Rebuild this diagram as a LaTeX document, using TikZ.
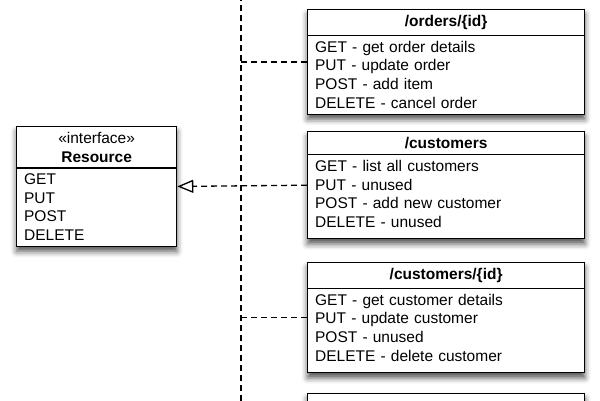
\documentclass[tikz,border=0pt]{standalone}
\usepackage{fontspec}
\setmainfont{Liberation Sans}
\usetikzlibrary{shapes.multipart,arrows.meta,shadows.blur}
\tikzstyle{umlclass}=[rectangle split, rectangle split parts=2, draw=black, fill=white, line width=1.3pt, inner xsep=7.5pt, inner ysep=5pt, align=left, font=\fontsize{15.5}{18.7}\selectfont, blur shadow={shadow xshift=0pt, shadow yshift=-5pt, shadow blur radius=6pt, shadow opacity=70}]
\tikzstyle{iface}=[umlclass, text width=145pt]
\tikzstyle{resource}=[umlclass, text width=262pt]
\tikzstyle{dep} = [draw, line width=1.3pt, dash pattern=on 6pt off 4pt]
\tikzstyle{realize} = [dep, -{Triangle[open,length=16pt,width=13pt]}]

\begin{document}
\begin{tikzpicture}[x=1pt,y=-1pt]
  \useasboundingbox (0,0) rectangle (600,400);
  \clip (0,0) rectangle (600,400);

  % interface
  \node[iface,anchor=north west] (Resource) at (16,126)
    {{\centering\guillemotleft interface\guillemotright\\\textbf{Resource}\par}
     \nodepart{two}GET\\PUT\\POST\\DELETE};

  % resources
  \node[resource,anchor=north west] (orders) at (307,9)
    {{\centering\textbf{/orders/\{id\}}\par}
     \nodepart{two}GET - get order details\\PUT - update order\\POST - add item\\DELETE - cancel order};
  \node[resource,anchor=north west] (customers) at (307,131)
    {{\centering\textbf{/customers}\par}
     \nodepart{two}GET - list all customers\\PUT - unused\\POST - add new customer\\DELETE - unused\strut};
  \node[resource,anchor=north west] (customer) at (307,262)
    {{\centering\textbf{/customers/\{id\}}\par}
     \nodepart{two}GET - get customer details\\PUT - update customer\\POST - unused\\DELETE - delete customer\strut};
  \node[resource,anchor=north west] (orderlist) at (307,393)
    {\phantom{X}
     \nodepart{two}\phantom{X}\\\phantom{X}\\\phantom{X}\\\phantom{X}};

  % bus
  \coordinate (bustop) at (241,-5);
  \coordinate (busbot) at (241,405);
  \path[dep] (bustop) -- (busbot);

  % links
  \path[dep] (orders.west) -- (orders.west -| bustop);
  \path[dep] (customer.west) -- (customer.west -| bustop);
  \path[realize] (customers.west) -- (Resource.east);
\end{tikzpicture}
\end{document}
